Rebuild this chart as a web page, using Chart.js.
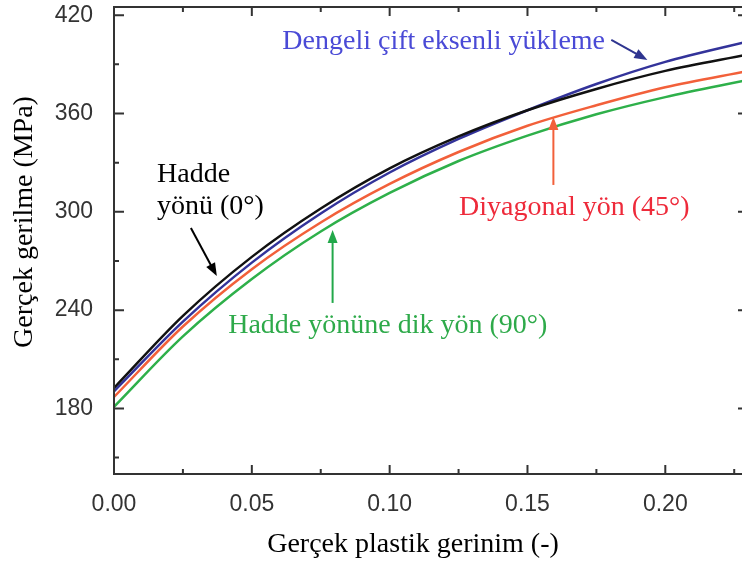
<!DOCTYPE html>
<html>
<head>
<meta charset="utf-8">
<script src="https://cdn.jsdelivr.net/npm/chart.js@4.4.0/dist/chart.umd.min.js"></script>
<style>
  html, body { margin: 0; padding: 0; background: #fff; overflow: hidden; }
  #wrap { width: 742px; height: 567px; overflow: hidden; }
</style>
</head>
<body>
<div id="wrap"><canvas id="chart" width="760" height="567"></canvas></div>
<script>
// gerçek plastik gerinim (x)
const strain = [0, 0.025, 0.05, 0.075, 0.10, 0.125, 0.15, 0.175, 0.20, 0.23];

// gerçek gerilme (MPa)
const rolling0 = [192.5, 236.5, 272.5, 302, 326.5, 346, 362, 375, 386, 396];
const biaxial = [190.5, 233, 269, 299, 324, 344.5, 362, 378, 391.5, 404];
const diagonal45 = [187, 230, 265, 293.5, 317, 336.5, 352.5, 365, 376, 386];
const transverse90 = [181, 224, 259, 288, 311.5, 331, 346.5, 359.5, 370, 380.5];

const xTicks = [0, 0.025, 0.05, 0.075, 0.10, 0.125, 0.15, 0.175, 0.20, 0.225];
const yTicks = [150, 180, 210, 240, 270, 300, 330, 360, 390, 420];

const seriesNames = ['Hadde yönü (0°)', 'Dengeli çift eksenli yükleme', 'Diyagonal yön (45°)', 'Hadde yönüne dik yön (90°)'];

const toPoints = (ys) => strain.map((x, i) => ({ x: x, y: ys[i] }));

const isMajorX = (v) => Math.round(v * 1000) % 50 === 0;
const isMajorY = (v) => Math.round(v) % 60 === 0;

const serif = "'Liberation Serif', 'Times New Roman', serif";

// notes: text, colour, position in data units; arrows tail -> head
const notes = [
  { text: 'Dengeli çift eksenli yükleme', color: '#4a4ad6', x: 0.1196, y: 403.6, align: 'center' },
  { text: 'Hadde', color: '#000', x: 0.0156, y: 322.5, align: 'left' },
  { text: 'yönü (0°)', color: '#000', x: 0.0156, y: 302.9, align: 'left' },
  { text: 'Diyagonal yön (45°)', color: '#ee2a3a', x: 0.167, y: 302.3, align: 'center' },
  { text: 'Hadde yönüne dik yön (90°)', color: '#2eaa4a', x: 0.0993, y: 230.3, align: 'center' }
];
const arrows = [
  { color: '#2f3590', from: [0.1804, 404.9], to: [0.1935, 392.7] },
  { color: '#000', from: [0.0279, 290.1], to: [0.0373, 260.8] },
  { color: '#f2603a', from: [0.1594, 316.4], to: [0.1594, 357.9] },
  { color: '#22a84a', from: [0.0793, 244.4], to: [0.0793, 288.9] }
];

function drawArrow(ctx, x1, y1, x2, y2, color) {
  const ang = Math.atan2(y2 - y1, x2 - x1);
  const len = 13, half = 5;
  ctx.save();
  ctx.strokeStyle = color;
  ctx.fillStyle = color;
  ctx.lineWidth = 2;
  ctx.beginPath();
  ctx.moveTo(x1, y1);
  ctx.lineTo(x2 - Math.cos(ang) * len * 0.8, y2 - Math.sin(ang) * len * 0.8);
  ctx.stroke();
  ctx.beginPath();
  ctx.moveTo(x2, y2);
  ctx.lineTo(x2 - Math.cos(ang) * len - Math.sin(ang) * half, y2 - Math.sin(ang) * len + Math.cos(ang) * half);
  ctx.lineTo(x2 - Math.cos(ang) * len + Math.sin(ang) * half, y2 - Math.sin(ang) * len - Math.cos(ang) * half);
  ctx.closePath();
  ctx.fill();
  ctx.restore();
}

const framePlugin = {
  id: 'frame',
  afterDraw(chart) {
    const { ctx, chartArea: a, scales } = chart;
    const xs = scales.x, ys = scales.y;
    ctx.save();
    ctx.strokeStyle = '#333';
    ctx.lineWidth = 2;
    ctx.strokeRect(a.left, a.top, a.right - a.left, a.bottom - a.top);
    ctx.beginPath();
    xTicks.forEach(v => {
      const px = xs.getPixelForValue(v);
      const l = isMajorX(v) ? 9 : 5;
      ctx.moveTo(px, a.bottom); ctx.lineTo(px, a.bottom - l);
      ctx.moveTo(px, a.top); ctx.lineTo(px, a.top + l);
    });
    yTicks.forEach(v => {
      const py = ys.getPixelForValue(v);
      const l = isMajorY(v) ? 10 : 5;
      ctx.moveTo(a.left, py); ctx.lineTo(a.left + l, py);
      ctx.moveTo(a.right, py); ctx.lineTo(a.right - l, py);
    });
    ctx.stroke();

    // axis titles
    ctx.fillStyle = '#000';
    ctx.font = '28px ' + serif;
    ctx.textAlign = 'center';
    ctx.textBaseline = 'middle';
    ctx.fillText('Gerçek plastik gerinim (-)', 413, 545);
    ctx.save();
    ctx.translate(25, 222);
    ctx.rotate(-Math.PI / 2);
    ctx.fillText('Gerçek gerilme (MPa)', 0, 0);
    ctx.restore();

    // notes and arrows
    notes.forEach(n => {
      ctx.fillStyle = n.color;
      ctx.textAlign = n.align;
      ctx.fillText(n.text, xs.getPixelForValue(n.x), ys.getPixelForValue(n.y));
    });
    arrows.forEach(ar => {
      drawArrow(ctx,
        xs.getPixelForValue(ar.from[0]), ys.getPixelForValue(ar.from[1]),
        xs.getPixelForValue(ar.to[0]), ys.getPixelForValue(ar.to[1]), ar.color);
    });
    ctx.restore();
  }
};

const lineColors = ['#111111', '#33339a', '#f2603a', '#2eb04a'];
const seriesData = [rolling0, biaxial, diagonal45, transverse90];

new Chart(document.getElementById('chart').getContext('2d'), {
  type: 'line',
  data: {
    datasets: seriesData.map((ys, i) => ({
      label: seriesNames[i],
      data: toPoints(ys),
      borderColor: lineColors[i],
      borderWidth: 2.5,
      pointRadius: 0,
      fill: false,
      cubicInterpolationMode: 'monotone'
    }))
  },
  options: {
    responsive: false,
    animation: false,
    layout: { padding: { top: 7, right: 12, left: 0, bottom: 0 } },
    plugins: { legend: { display: false }, tooltip: { enabled: false } },
    scales: {
      x: {
        type: 'linear',
        min: 0,
        max: 0.23,
        grid: { display: false, drawTicks: false },
        border: { display: false },
        afterBuildTicks: (s) => { s.ticks = xTicks.map(v => ({ value: v })); },
        afterFit: (s) => { s.height = 93; s.paddingLeft = 0; s.paddingRight = 0; },
        ticks: {
          autoSkip: false,
          maxRotation: 0,
          padding: 17,
          color: '#333',
          font: { family: "'Liberation Sans', Arial, sans-serif", size: 23 },
          callback: (v) => isMajorX(v) ? v.toFixed(2) : ''
        }
      },
      y: {
        type: 'linear',
        min: 140,
        max: 425,
        grid: { display: false, drawTicks: false },
        border: { display: false },
        afterBuildTicks: (s) => { s.ticks = yTicks.map(v => ({ value: v })); },
        afterFit: (s) => { s.width = 114; s.paddingTop = 0; s.paddingBottom = 0; },
        ticks: {
          autoSkip: false,
          padding: 21,
          color: '#333',
          font: { family: "'Liberation Sans', Arial, sans-serif", size: 23 },
          callback: (v) => isMajorY(v) ? String(v) : ''
        }
      }
    }
  },
  plugins: [framePlugin]
});
</script>
</body>
</html>
